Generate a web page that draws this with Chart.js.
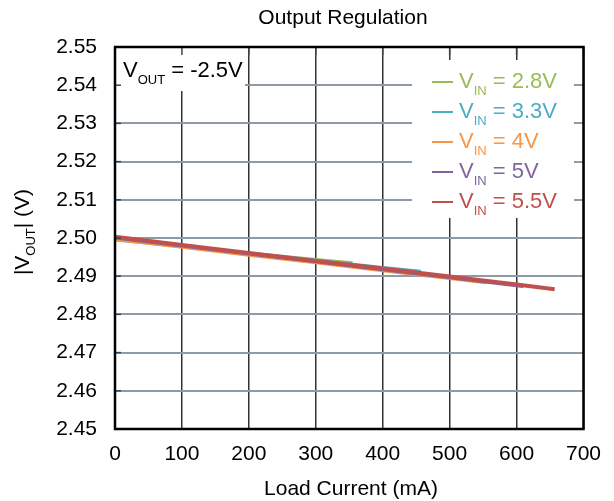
<!DOCTYPE html>
<html>
<head>
<meta charset="utf-8">
<script src="https://cdn.jsdelivr.net/npm/chart.js@4/dist/chart.umd.min.js"></script>
<style>
  html, body { margin: 0; padding: 0; background: #fff; }
  #wrap { width: 614px; height: 501px; }
</style>
</head>
<body>
<div id="wrap"><canvas id="chart" width="614" height="501"></canvas></div>
<script>
const FONT = '"Liberation Sans", Arial, sans-serif';

// ===== Данные =====
const vinLabels = ['2.8V', '3.3V', '4V', '5V', '5.5V'];
const vinColors = ['#9bbb59', '#4bacc6', '#f79646', '#8064a2', '#c0504d'];

const current28 = [0, 100, 200, 300, 355];
const vout28 = [2.4995, 2.4978, 2.4961, 2.4944, 2.4935];

const current33 = [0, 100, 200, 300, 400, 457];
const vout33 = [2.4998, 2.4979, 2.4960, 2.4942, 2.4923, 2.4913];

const current40 = [0, 100, 200, 300, 400, 500, 555];
const vout40 = [2.4996, 2.4976, 2.4955, 2.4935, 2.4914, 2.4894, 2.4883];

const current50 = [0, 100, 200, 300, 400, 500, 600, 610];
const vout50 = [2.5000, 2.4979, 2.4958, 2.4938, 2.4917, 2.4896, 2.4875, 2.4873];

const current55 = [0, 100, 200, 300, 400, 500, 600, 657];
const vout55 = [2.5003, 2.4982, 2.4961, 2.4940, 2.4920, 2.4899, 2.4878, 2.4866];

const xTicks = [0, 100, 200, 300, 400, 500, 600, 700];
const yTicks = [2.45, 2.46, 2.47, 2.48, 2.49, 2.50, 2.51, 2.52, 2.53, 2.54, 2.55];

const allCurrents = [current28, current33, current40, current50, current55];
const allVouts = [vout28, vout33, vout40, vout50, vout55];

// текст с подстрочным индексом: main + sub + rest
function drawSubText(ctx, x, y, main, sub, rest, size, color) {
    const subSize = Math.round(size * 0.6);
    ctx.fillStyle = color;
    ctx.textAlign = 'left';
    ctx.textBaseline = 'alphabetic';
    ctx.font = size + 'px ' + FONT;
    ctx.fillText(main, x, y);
    x += ctx.measureText(main).width;
    ctx.font = subSize + 'px ' + FONT;
    ctx.fillText(sub, x, y + size * 0.3);
    x += ctx.measureText(sub).width;
    ctx.font = size + 'px ' + FONT;
    ctx.fillText(rest, x, y);
}

function subTextWidth(ctx, main, sub, rest, size) {
    const subSize = Math.round(size * 0.6);
    ctx.font = size + 'px ' + FONT;
    let w = ctx.measureText(main).width + ctx.measureText(rest).width;
    ctx.font = subSize + 'px ' + FONT;
    return w + ctx.measureText(sub).width;
}

const decorPlugin = {
    id: 'decor',
    afterDraw(chart) {
        const ctx = chart.ctx;
        const a = chart.chartArea;
        const xs = chart.scales.x;
        const ys = chart.scales.y;
        ctx.save();

        // белые подложки под подписями
        ctx.fillStyle = '#fff';
        ctx.fillRect(a.left, a.top, 130, 44);
        ctx.fillRect(412, 60, 162, 158);

        // внутренние засечки
        ctx.lineWidth = 1.5;
        ctx.strokeStyle = '#33475b';
        yTicks.forEach(v => {
            const y = ys.getPixelForValue(v);
            ctx.beginPath();
            ctx.moveTo(a.left, y);
            ctx.lineTo(a.left + 6, y);
            ctx.stroke();
        });
        ctx.strokeStyle = '#444';
        xTicks.forEach(v => {
            const x = xs.getPixelForValue(v);
            ctx.beginPath();
            ctx.moveTo(x, a.top);
            ctx.lineTo(x, a.top + 8);
            ctx.stroke();
        });

        // рамка
        ctx.lineWidth = 2.5;
        ctx.strokeStyle = '#000';
        ctx.strokeRect(a.left, a.top, a.right - a.left, a.bottom - a.top);

        // заголовок
        ctx.fillStyle = '#000';
        ctx.font = '21px ' + FONT;
        ctx.textAlign = 'center';
        ctx.textBaseline = 'alphabetic';
        ctx.fillText('Output Regulation', 343, 24);

        // подпись оси X
        ctx.font = '21px ' + FONT;
        ctx.fillText('Load Current (mA)', 351, 495);

        // подпись оси Y
        ctx.save();
        ctx.translate(0, 232);
        ctx.rotate(-Math.PI / 2);
        const yw = subTextWidth(ctx, '|V', 'OUT', '| (V)', 21);
        drawSubText(ctx, -yw / 2, 29, '|V', 'OUT', '| (V)', 21, '#000');
        ctx.restore();

        // аннотация
        drawSubText(ctx, 123, 77, 'V', 'OUT', ' = -2.5V', 22, '#000');

        // легенда
        vinLabels.forEach((lbl, i) => {
            const base = 88 + i * 30;
            ctx.strokeStyle = vinColors[i];
            ctx.lineWidth = 2;
            ctx.beginPath();
            ctx.moveTo(432, base - 6);
            ctx.lineTo(453, base - 6);
            ctx.stroke();
            drawSubText(ctx, 459, base, 'V', 'IN', ' = ' + lbl, 22, vinColors[i]);
        });

        ctx.restore();
    }
};

const datasets = vinLabels.map((lbl, i) => ({
    label: 'VIN = ' + lbl,
    data: allCurrents[i].map((x, j) => ({ x: x, y: allVouts[i][j] })),
    borderColor: vinColors[i],
    borderWidth: i === 4 ? 4 : 3,
    pointRadius: 0,
    tension: 0,
    fill: false,
    order: vinLabels.length - i
}));

new Chart(document.getElementById('chart').getContext('2d'), {
    type: 'line',
    data: { datasets: datasets },
    options: {
        responsive: false,
        animation: false,
        devicePixelRatio: 1,
        layout: { padding: { top: 47, right: 29, left: 0, bottom: 0 } },
        plugins: {
            legend: { display: false },
            tooltip: { enabled: false },
            title: { display: false }
        },
        scales: {
            x: {
                type: 'linear',
                min: xTicks[0],
                max: xTicks[xTicks.length - 1],
                afterBuildTicks: s => { s.ticks = xTicks.map(v => ({ value: v })); },
                afterFit: s => { s.height = 72; },
                grid: { color: '#333333', lineWidth: 1.5, drawTicks: false },
                border: { display: false },
                ticks: {
                    padding: 13,
                    color: '#000',
                    font: { family: FONT, size: 21 }
                }
            },
            y: {
                type: 'linear',
                min: yTicks[0],
                max: yTicks[yTicks.length - 1],
                afterBuildTicks: s => { s.ticks = yTicks.map(v => ({ value: v })); },
                afterFit: s => { s.width = 115; },
                grid: { color: '#8d9aa8', lineWidth: 2, drawTicks: false },
                border: { display: false },
                ticks: {
                    padding: 18,
                    color: '#000',
                    font: { family: FONT, size: 21 },
                    callback: v => Number(v).toFixed(2)
                }
            }
        }
    },
    plugins: [decorPlugin]
});
</script>
</body>
</html>
